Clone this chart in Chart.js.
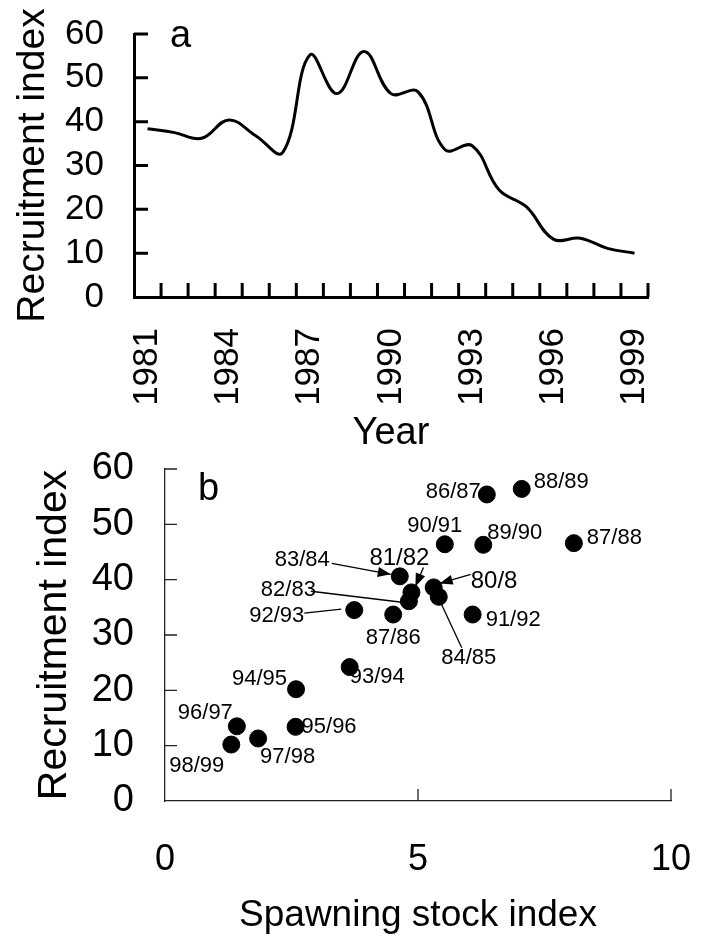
<!DOCTYPE html>
<html>
<head>
<meta charset="utf-8">
<script src="https://cdn.jsdelivr.net/npm/chart.js@4.4.0/dist/chart.umd.min.js"></script>
<style>
html, body { margin: 0; padding: 0; background: #fff; }
#wrap { position: relative; width: 707px; height: 938px; }
#boxA { position: absolute; left: 0; top: 0; width: 707px; height: 460px; }
#boxB { position: absolute; left: 0; top: 440px; width: 707px; height: 498px; }
</style>
</head>
<body>
<div id="wrap">
  <div id="boxB"><canvas id="chartB"></canvas></div>
  <div id="boxA"><canvas id="chartA"></canvas></div>
</div>
<script>
// ---- panel a: recruitment index by year
var years = ['1981', '1982', '1983', '1984', '1985', '1986', '1987', '1988', '1989', '1990',
             '1991', '1992', '1993', '1994', '1995', '1996', '1997', '1998', '1999'];
var recruitByYear = [38.4, 37.5, 36.2, 40.4, 36.8, 33.0, 55.2, 46.4, 56.0, 46.4,
                     46.8, 33.6, 34.5, 24.4, 20.6, 13.2, 13.4, 11.1, 10.0];

// ---- panel b: recruitment vs spawning stock
var seasons  = ['80/8', '81/82', '82/83', '83/84', '84/85', '87/86', '86/87', '87/88', '88/89', '89/90',
                '90/91', '91/92', '92/93', '93/94', '94/95', '95/96', '96/97', '97/98', '98/99'];
var stock    = [5.31, 4.87, 4.82, 4.64, 5.41, 4.51, 6.36, 8.08, 7.05, 6.29,
                5.53, 6.08, 3.74, 3.65, 2.59, 2.58, 1.42, 1.84, 1.31];
var recruit  = [38.6, 37.7, 36.1, 40.6, 36.9, 33.7, 55.4, 46.6, 56.4, 46.3,
                46.4, 33.7, 34.5, 24.2, 20.2, 13.4, 13.5, 11.3, 10.2];

var FONT = "'Liberation Sans', Arial, sans-serif";

// label placement (pixel offsets from each point), same order as seasons
var labelLayout = [
    {dx: 37, dy: -6, align: 'left', size: 24, line: [37, -13, 6, -4], arrow: true},
    {dx: -12, dy: -34, align: 'center', size: 24, line: [12, -25, 4, -6], arrow: true},
    {dx: -93, dy: -11, align: 'right', size: 22, line: [-98, -10, -7, 1], arrow: false},
    {dx: -70, dy: -16, align: 'right', size: 22, line: [-68, -13, -9, -2], arrow: true},
    {dx: 30, dy: 61, align: 'center', size: 22, line: [2, 6, 23, 51], arrow: false},
    {dx: 0, dy: 23, align: 'center', size: 22},
    {dx: -6, dy: -3, align: 'right', size: 22},
    {dx: 13, dy: -5, align: 'left', size: 22},
    {dx: 12, dy: -7, align: 'left', size: 22},
    {dx: 4, dy: -12, align: 'left', size: 22},
    {dx: -10, dy: -18, align: 'center', size: 22},
    {dx: 13, dy: 5, align: 'left', size: 22},
    {dx: -50, dy: 6, align: 'right', size: 22, line: [-50, 3, -13, -1], arrow: false},
    {dx: 0, dy: 10, align: 'left', size: 22},
    {dx: -9, dy: -10, align: 'right', size: 22},
    {dx: 6, dy: 0, align: 'left', size: 22},
    {dx: -4, dy: -13, align: 'right', size: 22},
    {dx: 2, dy: 18, align: 'left', size: 22},
    {dx: -62, dy: 21, align: 'left', size: 22}
];

// ticks drawn on the inside of the axes
var innerTicks = {
    id: 'innerTicks',
    afterDraw: function(chart, args, o) {
        var ctx = chart.ctx, a = chart.chartArea, sx = chart.scales.x, sy = chart.scales.y;
        ctx.save();
        ctx.strokeStyle = o.color;
        ctx.lineWidth = o.width;
        ctx.beginPath();
        sy.ticks.forEach(function(t) {
            if (t.value === 0) return;
            var y = sy.getPixelForValue(t.value);
            ctx.moveTo(a.left, y);
            ctx.lineTo(a.left + o.len, y);
        });
        if (o.between) {
            var half = (sx.getPixelForValue(1) - sx.getPixelForValue(0)) / 2;
            for (var i = 0; i < sx.ticks.length; i++) {
                var x = sx.getPixelForValue(i) + half;
                ctx.moveTo(x, a.bottom);
                ctx.lineTo(x, a.bottom - o.len);
            }
        } else {
            sx.ticks.forEach(function(t) {
                if (t.value === 0) return;
                var x = sx.getPixelForValue(t.value);
                ctx.moveTo(x, a.bottom);
                ctx.lineTo(x, a.bottom - o.len);
            });
        }
        ctx.stroke();
        // panel letter
        ctx.fillStyle = '#000';
        ctx.font = o.letterSize + 'px ' + FONT;
        ctx.textBaseline = 'alphabetic';
        ctx.textAlign = 'left';
        ctx.fillText(o.letter, a.left + o.letterX, a.top + o.letterY);
        ctx.restore();
    }
};

var pointLabels = {
    id: 'pointLabels',
    afterDatasetsDraw: function(chart) {
        var ctx = chart.ctx, sx = chart.scales.x, sy = chart.scales.y;
        ctx.save();
        ctx.fillStyle = '#000';
        ctx.strokeStyle = '#000';
        ctx.lineWidth = 1.3;
        seasons.forEach(function(txt, i) {
            var L = labelLayout[i];
            var px = sx.getPixelForValue(stock[i]);
            var py = sy.getPixelForValue(recruit[i]);
            if (L.line) {
                var x1 = px + L.line[0], y1 = py + L.line[1], x2 = px + L.line[2], y2 = py + L.line[3];
                ctx.beginPath();
                ctx.moveTo(x1, y1);
                ctx.lineTo(x2, y2);
                ctx.stroke();
                if (L.arrow) {
                    var ang = Math.atan2(y2 - y1, x2 - x1);
                    ctx.beginPath();
                    ctx.moveTo(x2, y2);
                    ctx.lineTo(x2 - 13 * Math.cos(ang) + 5 * Math.sin(ang), y2 - 13 * Math.sin(ang) - 5 * Math.cos(ang));
                    ctx.lineTo(x2 - 13 * Math.cos(ang) - 5 * Math.sin(ang), y2 - 13 * Math.sin(ang) + 5 * Math.cos(ang));
                    ctx.closePath();
                    ctx.fill();
                }
            }
            ctx.font = L.size + 'px ' + FONT;
            ctx.textAlign = L.align;
            ctx.textBaseline = 'middle';
            ctx.fillText(txt, px + L.dx, py + L.dy);
        });
        ctx.restore();
    }
};

// keep the plot area where layout.padding puts it
function fixY(width) {
    return function(s) { s.width = width; s.paddingTop = 0; s.paddingBottom = 0; };
}
function fixX(height) {
    return function(s) { s.height = height; s.paddingLeft = 0; s.paddingRight = 0; };
}

var chartA = new Chart(document.getElementById('chartA'), {
    type: 'line',
    data: {
        labels: years,
        datasets: [{
            data: recruitByYear,
            borderColor: '#000',
            borderWidth: 3,
            pointRadius: 0,
            tension: 0.4,
            fill: false
        }]
    },
    options: {
        responsive: true,
        maintainAspectRatio: false,
        animation: false,
        devicePixelRatio: 1,
        layout: { padding: { left: 0, right: 59, top: 34, bottom: 0 } },
        plugins: {
            legend: { display: false },
            tooltip: { enabled: false },
            innerTicks: { color: '#000', width: 3, len: 14, between: true, letter: 'a', letterSize: 38, letterX: 36, letterY: 13 }
        },
        scales: {
            x: {
                type: 'category',
                offset: true,
                grid: { display: false, drawTicks: false, offset: true },
                border: { display: true, color: '#000', width: 3 },
                ticks: {
                    autoSkip: false, maxRotation: 90, minRotation: 90, padding: 31,
                    color: '#000', font: { family: FONT, size: 35 },
                    callback: function(v, i) { return i % 3 === 0 ? this.getLabelForValue(v) : ''; }
                },
                title: { display: true, text: 'Year', color: '#000', font: { family: FONT, size: 38 }, padding: { top: 0, bottom: 4 } },
                afterFit: fixX(163)
            },
            y: {
                min: 0, max: 60,
                grid: { display: false, drawTicks: false },
                border: { display: true, color: '#000', width: 3 },
                ticks: { stepSize: 10, autoSkip: false, padding: 30, color: '#000', font: { family: FONT, size: 35 } },
                title: { display: true, text: 'Recruitment index', color: '#000', font: { family: FONT, size: 39 }, padding: { top: 10, bottom: 0 } },
                afterFit: fixY(134)
            }
        }
    },
    plugins: [innerTicks]
});

var chartB = new Chart(document.getElementById('chartB'), {
    type: 'scatter',
    data: {
        datasets: [{
            data: stock.map(function(x, i) { return { x: x, y: recruit[i] }; }),
            backgroundColor: '#000',
            borderColor: '#000',
            pointRadius: 8.5,
            pointHoverRadius: 8.5
        }]
    },
    options: {
        responsive: true,
        maintainAspectRatio: false,
        animation: false,
        devicePixelRatio: 1,
        layout: { padding: { left: 0, right: 36, top: 29, bottom: 0 } },
        plugins: {
            legend: { display: false },
            tooltip: { enabled: false },
            innerTicks: { color: '#222', width: 1.3, len: 12, between: false, letter: 'b', letterSize: 38, letterX: 33, letterY: 31 }
        },
        scales: {
            x: {
                type: 'linear', min: 0, max: 10,
                grid: { display: false, drawTicks: false },
                border: { display: true, color: '#222', width: 1.3 },
                ticks: { stepSize: 5, padding: 37, color: '#000', font: { family: FONT, size: 36 } },
                title: { display: true, text: 'Spawning stock index', color: '#000', font: { family: FONT, size: 37 }, padding: { top: 0, bottom: 0 } },
                afterFit: fixX(137)
            },
            y: {
                min: 0, max: 60,
                grid: { display: false, drawTicks: false },
                border: { display: true, color: '#222', width: 1.3 },
                ticks: { stepSize: 10, autoSkip: false, padding: 31, color: '#000', font: { family: FONT, size: 38 } },
                title: { display: true, text: 'Recruitment index', color: '#000', font: { family: FONT, size: 41 }, padding: { top: 30, bottom: 0 } },
                afterFit: fixY(165)
            }
        }
    },
    plugins: [innerTicks, pointLabels]
});
</script>
</body>
</html>
